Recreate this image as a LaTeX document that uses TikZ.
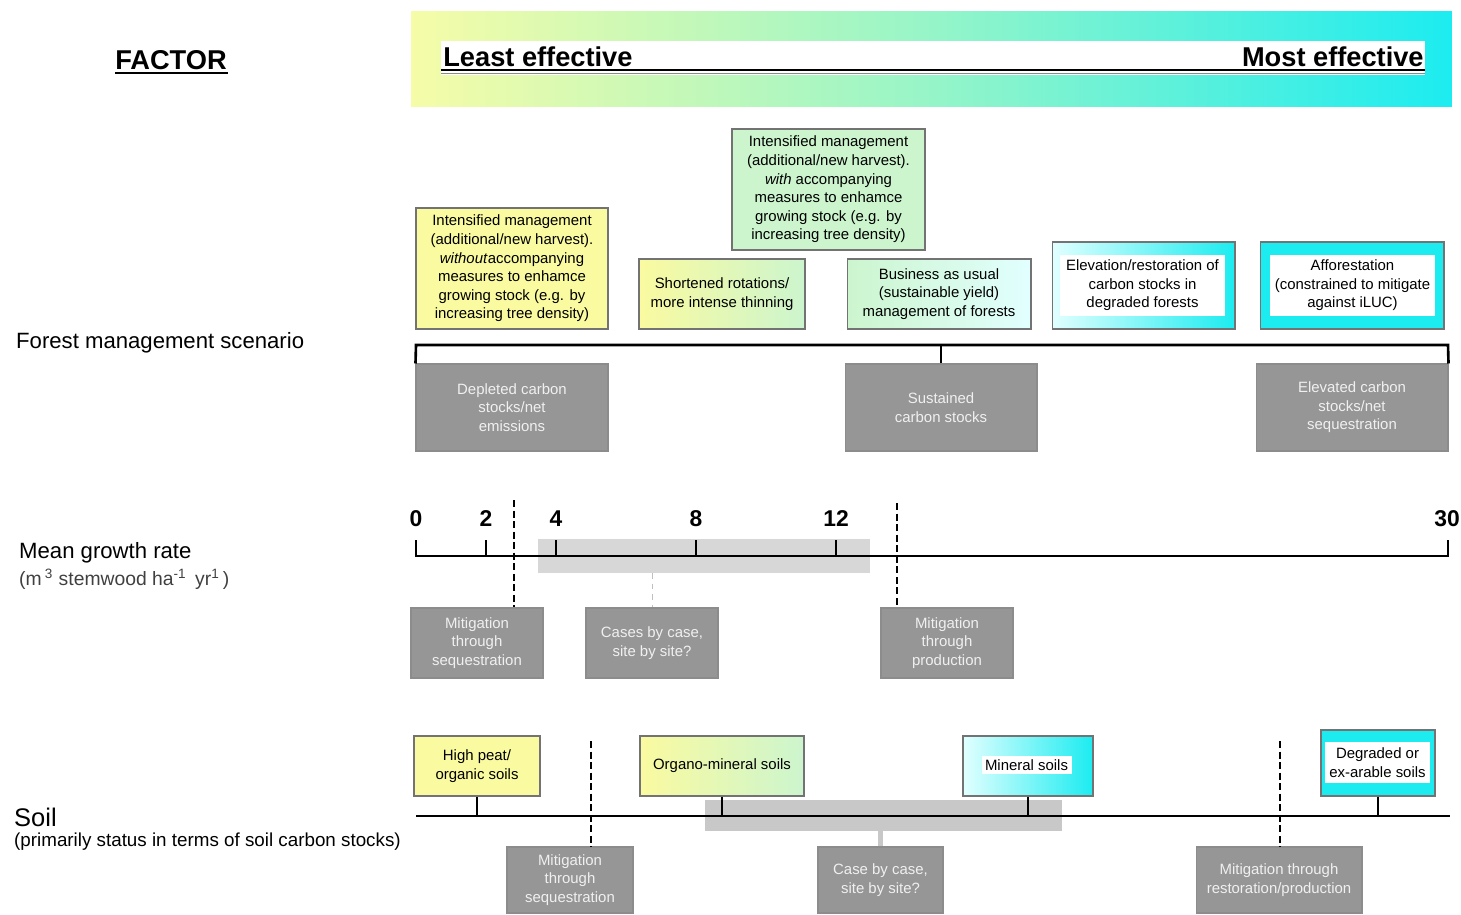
\documentclass[tikz,border=0pt]{standalone}
\usepackage{fontspec}
\setmainfont{Liberation Sans}

\definecolor{paleyellow}{RGB}{250,250,160}
\definecolor{palegreen}{RGB}{204,245,206}
\definecolor{palecyan}{RGB}{225,255,255}
\definecolor{brightcyan}{RGB}{28,236,240}
\definecolor{mint}{RGB}{150,245,200}
\definecolor{bannerleft}{RGB}{246,252,168}
\definecolor{boxgray}{RGB}{150,150,150}
\definecolor{bandgray}{RGB}{215,215,215}
\definecolor{soilband}{RGB}{200,200,200}

\begin{document}
\begin{tikzpicture}[x=0.02cm,y=-0.02cm,
    box/.style={draw=black!55,line width=0.6pt,inner sep=0pt,align=center,
        font=\fontsize{8.5}{10.6}\selectfont},
    graybox/.style={box,fill=boxgray,draw=black!45,text=black!6},
    whitebox/.style={fill=white,inner sep=0pt,align=center,font=\fontsize{8.5}{10.6}\selectfont},
    axis/.style={line width=1.5pt},
    stub/.style={line width=1.1pt},
    dashline/.style={line width=1.2pt,dash pattern=on 4pt off 2pt},
    num/.style={anchor=base,font=\fontsize{13}{13}\bfseries\selectfont},
    heading/.style={anchor=west,font=\fontsize{12.6}{14}\selectfont}]
    \useasboundingbox (0,0) rectangle (1461,914);

    % banner
    \node[minimum width=20.82cm,minimum height=1.92cm,inner sep=0pt,
        left color=bannerleft,right color=brightcyan,middle color=mint] (banner) at (931.5,59) {};
    \node[fill=white,minimum width=19.68cm,minimum height=0.68cm,inner sep=0pt] (strip) at (933,58) {};
    \node[anchor=base west,inner sep=0pt,font=\fontsize{15.5}{16}\bfseries\selectfont] (least) at (443,66) {Least effective};
    \node[anchor=base east,inner sep=0pt,font=\fontsize{15.5}{16}\bfseries\selectfont] (most) at (1424,66) {Most effective};
    \draw[line width=1.6pt] (441,70) -- (1425,70);
    \draw[line width=0.6pt,black!45] (441,73.5) -- (1425,73.5);
    \node[anchor=base,inner sep=0pt,font=\fontsize{15.5}{16}\bfseries\selectfont] (factor) at (171,69) {FACTOR};
    \draw[line width=1.3pt] (115,73) -- (228,73);

    % factor names
    \node[heading] (forest) at (10,343) {Forest management scenario};
    \node[heading] (growth) at (13,553) {Mean growth rate};
    \node[heading,font=\fontsize{11}{12}\selectfont,text=black!75] (unit) at (13,579)
        {(m\,\textsuperscript{3} stemwood ha\textsuperscript{-1}\, yr\textsuperscript{1}\,)};
    \node[heading,font=\fontsize{14.5}{16}\selectfont] (soil) at (8,817) {Soil};
    \node[heading,font=\fontsize{10.7}{12}\selectfont] (soilsub) at (8,842) {(primarily status in terms of soil carbon stocks)};

    % management scenarios
    \node[box,fill=paleyellow,minimum width=3.84cm,minimum height=2.42cm] (woacc) at (512,268.5)
        {Intensified management\\(additional/new harvest).\\\textit{without}accompanying\\measures to enhamce\\growing stock (e.g. by\\increasing tree density)};
    \node[box,fill=palegreen,minimum width=3.86cm,minimum height=2.42cm] (wacc) at (828.5,189.5)
        {Intensified management\\(additional/new harvest).\\\textit{with} accompanying\\measures to enhamce\\growing stock (e.g. by\\increasing tree density)};
    \node[box,left color=paleyellow,right color=palegreen,minimum width=3.32cm,minimum height=1.4cm] (short) at (722,294)
        {Shortened rotations/\\more intense thinning};
    \node[box,left color=palegreen,right color=palecyan,minimum width=3.68cm,minimum height=1.4cm] (bau) at (939,294)
        {Business as usual\\(sustainable yield)\\management of forests};
    \node[box,left color=palecyan,right color=brightcyan,minimum width=3.66cm,minimum height=1.74cm] (restbg) at (1143.5,285.5) {};
    \node[whitebox,minimum width=3.3cm,minimum height=1.22cm] (rest) at (1142.5,285.5)
        {Elevation/restoration of\\carbon stocks in\\degraded forests};
    \node[box,fill=brightcyan,minimum width=3.68cm,minimum height=1.74cm] (affbg) at (1352,285.5) {};
    \node[whitebox,minimum width=3.3cm,minimum height=1.22cm] (aff) at (1352.5,285.5)
        {Afforestation\\(constrained to mitigate\\against iLUC)};

    % carbon outcome
    \node[graybox,minimum width=3.84cm,minimum height=1.74cm] (depl) at (512,407.5) {Depleted carbon\\stocks/net\\emissions};
    \node[graybox,minimum width=3.84cm,minimum height=1.74cm] (sust) at (941,407.5) {Sustained\\carbon stocks};
    \node[graybox,minimum width=3.84cm,minimum height=1.74cm] (elev) at (1352,407.5) {Elevated carbon\\stocks/net\\sequestration};
    \coordinate (bl) at (416,345);
    \coordinate (br) at (1448,345);
    \draw[axis] (depl.north west) -- (bl) -- (br) -- (elev.north east);
    \draw[axis] (sust.north) -- (sust.north |- bl);

    % growth rate scale
    \node[fill=bandgray,minimum width=6.64cm,minimum height=0.68cm,inner sep=0pt] (gband) at (704,556) {};
    \coordinate (g0) at (416,556);
    \coordinate (g30) at (1448,556);
    \draw[axis] (416,540) -- (g0) -- (g30) -- (1448,540);
    \foreach \x in {486,556,696,836}
        \draw[axis] (\x,556) -- (\x,540);
    \foreach \v/\x in {0/416,2/486,4/556,8/696,12/836,30/1447}
        \node[num] (n\v) at (\x,526) {\v};

    \node[graybox,minimum width=2.64cm,minimum height=1.4cm] (mitseq) at (477,643) {Mitigation\\through\\sequestration};
    \node[graybox,minimum width=2.64cm,minimum height=1.4cm] (cases) at (652,643) {Cases by case,\\site by site?};
    \node[graybox,minimum width=2.64cm,minimum height=1.4cm] (mitprod) at (947,643) {Mitigation\\through\\production};
    \coordinate (gd1) at (514,500);
    \coordinate (gd2) at (897,503);
    \draw[dashline] (gd1) -- (gd1 |- mitseq.north);
    \draw[dashline] (gd2) -- (gd2 |- mitprod.north);
    \draw[black!25,dashed,thin] (gband.south -| cases.north) -- (cases.north);

    % soil scale
    \node[fill=soilband,minimum width=7.14cm,minimum height=0.62cm,inner sep=0pt] (sband) at (883.5,815.5) {};
    \coordinate (s0) at (416,816);
    \coordinate (s1) at (1450,816);
    \draw[axis] (s0) -- (s1);

    \node[box,fill=paleyellow,minimum width=2.52cm,minimum height=1.2cm] (peat) at (477,766) {High peat/\\organic soils};
    \node[box,left color=paleyellow,right color=palegreen,minimum width=3.28cm,minimum height=1.2cm] (organo) at (722,766) {Organo-mineral soils};
    \node[box,left color=palecyan,right color=brightcyan,minimum width=2.6cm,minimum height=1.2cm] (mineral) at (1028,766) {};
    \node[whitebox,inner sep=2pt] (minlabel) at (1026.5,765) {Mineral soils};
    \node[box,fill=brightcyan,minimum width=2.28cm,minimum height=1.32cm] (degbg) at (1378,763) {};
    \node[whitebox,minimum width=2.1cm,minimum height=0.82cm] (deg) at (1377.5,762.5) {Degraded or\\ex-arable soils};
    \foreach \b in {peat,organo,mineral,degbg}
        \draw[stub] (\b.south) -- (\b.south |- s0);

    \node[graybox,minimum width=2.52cm,minimum height=1.32cm] (soilseq) at (570,880) {Mitigation\\through\\sequestration};
    \node[graybox,minimum width=2.5cm,minimum height=1.32cm] (scase) at (880.5,880) {Case by case,\\site by site?};
    \node[graybox,minimum width=3.32cm,minimum height=1.32cm] (restprod) at (1279,880) {Mitigation through\\restoration/production};
    \draw[soilband,line width=3.4pt] (sband.south -| scase.north) -- (scase.north);
    \coordinate (sd1) at (591,741);
    \coordinate (sd2) at (1280,741);
    \draw[dashline] (sd1) -- (sd1 |- soilseq.north);
    \draw[dashline] (sd2) -- (sd2 |- restprod.north);
\end{tikzpicture}
\end{document}
